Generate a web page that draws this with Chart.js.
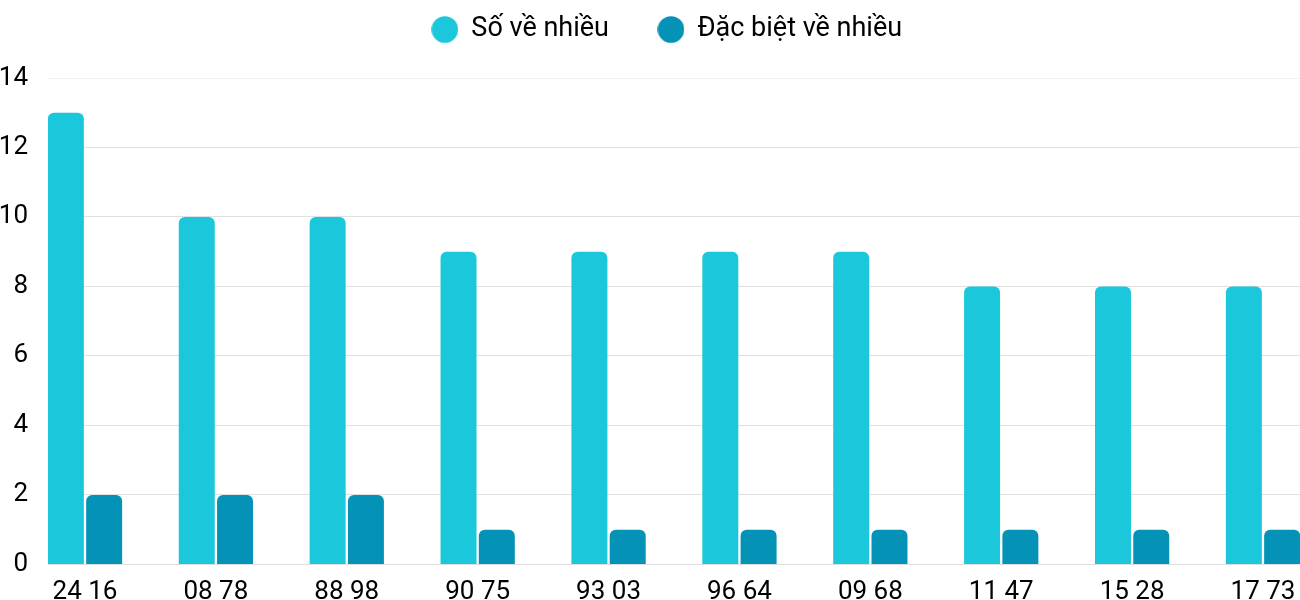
<!DOCTYPE html>
<html>
<head>
<meta charset="utf-8">
<script src="https://cdn.jsdelivr.net/npm/chart.js@4/dist/chart.umd.min.js"></script>
<style>
  html, body { margin: 0; padding: 0; background: #fff; }
  #wrap { width: 1300px; height: 600px; position: relative; }
</style>
</head>
<body>
<div id="wrap"><canvas id="chart"></canvas></div>
<script>
// cặp số xuất hiện nhiều
const labels = ['24 16', '08 78', '88 98', '90 75', '93 03', '96 64', '09 68', '11 47', '15 28', '17 73'];
const soVeNhieu = [13, 10, 10, 9, 9, 9, 9, 8, 8, 8];
const dacBietVeNhieu = [2, 2, 2, 1, 1, 1, 1, 1, 1, 1];
const yTicks = [0, 2, 4, 6, 8, 10, 12, 14];

const colors = ['#1BC8DB', '#0493B7'];

const toPoints = arr => arr.map((v, i) => ({ x: i, y: v }));

// chấm tròn cho chú thích
const dot = color => {
  const c = document.createElement('canvas');
  c.width = 27;
  c.height = 27;
  const g = c.getContext('2d');
  g.fillStyle = color;
  g.beginPath();
  g.arc(13.5, 13.5, 13.3, 0, Math.PI * 2);
  g.fill();
  return c;
};

// thêm khoảng trống dưới chú thích, dời chú thích sang phải một chút
const legendGap = {
  id: 'legendGap',
  beforeInit(chart) {
    const legend = chart.legend;
    const fit = legend.fit;
    const draw = legend.draw;
    legend.fit = function () {
      fit.call(this);
      this.height += 25;
    };
    legend.draw = function () {
      this.ctx.save();
      this.ctx.translate(17, 0);
      draw.call(this);
      this.ctx.restore();
    };
  }
};

new Chart(document.getElementById('chart'), {
  type: 'bar',
  data: {
    datasets: [
      {
        label: 'Số về nhiều',
        data: toPoints(soVeNhieu),
        backgroundColor: colors[0],
        pointStyle: dot(colors[0]),
        borderRadius: { topLeft: 6, topRight: 6 },
        borderSkipped: false
      },
      {
        label: 'Đặc biệt về nhiều',
        data: toPoints(dacBietVeNhieu),
        backgroundColor: colors[1],
        pointStyle: dot(colors[1]),
        borderRadius: { topLeft: 6, topRight: 6 },
        borderSkipped: false
      }
    ]
  },
  plugins: [legendGap],
  options: {
    responsive: true,
    maintainAspectRatio: false,
    animation: false,
    categoryPercentage: 0.585,
    barPercentage: 0.94,
    layout: { padding: { left: 0, right: 0, top: -33, bottom: -19 } },
    plugins: {
      tooltip: { enabled: false },
      legend: {
        position: 'top',
        labels: {
          usePointStyle: true,
          boxWidth: 26,
          boxHeight: 26,
          padding: 49,
          color: '#000',
          font: { family: 'Roboto', size: 27 }
        }
      }
    },
    scales: {
      x: {
        type: 'linear',
        offset: false,
        bounds: 'data',
        min: -0.2827,
        max: 9.2827,
        afterBuildTicks: s => { s.ticks = labels.map((_, i) => ({ value: i })); },
        grid: { display: false, offset: false },
        border: { display: false },
        ticks: {
          autoSkip: false,
          maxRotation: 0,
          padding: 4,
          color: '#000',
          font: { family: 'Roboto', size: 26 },
          callback: v => labels[v]
        }
      },
      y: {
        min: 0,
        max: 14,
        afterBuildTicks: s => { s.ticks = yTicks.map(v => ({ value: v })); },
        afterFit: s => { s.width = 48; },
        grid: {
          color: ctx => (ctx.tick && ctx.tick.value === 14 ? '#f2f2f2' : '#e0e0e0'),
          drawTicks: false
        },
        border: { display: false },
        ticks: {
          padding: 20,
          color: '#000',
          font: { family: 'Roboto', size: 26 }
        }
      }
    }
  }
});
</script>
</body>
</html>
